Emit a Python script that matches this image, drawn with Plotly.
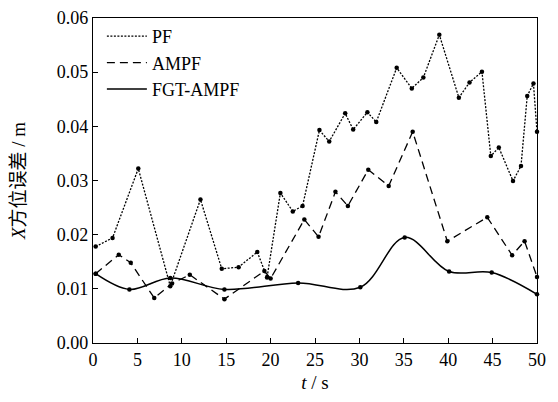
import plotly.graph_objects as go

# Data
pf_t = [0.3, 2.2, 5.1, 8.7, 12.1, 14.5, 16.4, 18.5, 19.6, 21.1, 22.5, 23.6, 25.5, 26.6,
        28.4, 29.3, 30.9, 31.9, 34.2, 35.9, 37.2, 39.0, 41.2, 42.4, 43.8, 44.8, 45.7,
        47.3, 48.2, 48.9, 49.6, 50.0]
pf_v = [0.0178, 0.0194, 0.0322, 0.0105, 0.0265, 0.0137, 0.0140, 0.0168, 0.0121, 0.0277,
        0.0243, 0.0253, 0.0393, 0.0372, 0.0424, 0.0394, 0.0426, 0.0408, 0.0508, 0.0470,
        0.0490, 0.0569, 0.0453, 0.0481, 0.0501, 0.0345, 0.0361, 0.0299, 0.0327, 0.0456,
        0.0479, 0.0390]

ampf_t = [0.3, 2.9, 4.25, 6.9, 8.9, 10.9, 14.8, 19.3, 20.0, 23.8, 25.4, 27.3, 28.7,
          31.0, 33.3, 36.0, 39.9, 44.4, 47.2, 48.6, 50.0]
ampf_v = [0.0128, 0.0163, 0.0148, 0.0083, 0.0110, 0.0126, 0.0081, 0.0133, 0.0119,
          0.0228, 0.0196, 0.0279, 0.0253, 0.0320, 0.0290, 0.0390, 0.0188, 0.0232,
          0.0162, 0.0188, 0.0122]

fgt_t = [0.3, 4.1, 8.7, 14.8, 23.1, 30.1, 35.1, 40.1, 44.9, 50.0]
fgt_v = [0.0128, 0.0099, 0.0120, 0.0099, 0.0111, 0.0103, 0.0195, 0.0132, 0.0130, 0.0090]

names = ["PF", "AMPF", "FGT-AMPF"]
x_ticks = [0, 5, 10, 15, 20, 25, 30, 35, 40, 45, 50]

FONT = "Liberation Serif, Times New Roman, serif"
CJK = "Liberation Serif, Noto Sans CJK SC, serif"

fig = go.Figure()

series = [
    (pf_t, pf_v, names[0], dict(color="black", width=1.3, dash="2px,1.5px"), "linear"),
    (ampf_t, ampf_v, names[1], dict(color="black", width=1.3, dash="8px,5px"), "linear"),
    (fgt_t, fgt_v, names[2], dict(color="black", width=1.5), "spline"),
]

for t, v, name, line, shape in series:
    line = dict(line)
    line["shape"] = shape
    if shape == "spline":
        line["smoothing"] = 1.0
    fig.add_trace(go.Scatter(x=t, y=v, mode="lines", name=name, line=line,
                             showlegend=True, cliponaxis=False))
    fig.add_trace(go.Scatter(x=t, y=v, mode="markers", showlegend=False,
                             marker=dict(color="black", size=4.5), cliponaxis=False,
                             hoverinfo="skip"))

# The page adds an 8px body margin, so the figure is sized/offset to compensate.
fig.update_layout(
    width=550, height=394,
    margin=dict(l=85, r=21, t=10, b=59),
    paper_bgcolor="white", plot_bgcolor="white",
    font=dict(family=FONT, size=18, color="black"),
    showlegend=True,
    legend=dict(x=0.02, y=1.0, xanchor="left", yanchor="top",
                bgcolor="rgba(0,0,0,0)", font=dict(family=FONT, size=18),
                tracegroupgap=0, itemwidth=40),
)

fig.update_xaxes(
    range=[0, 50], tickvals=x_ticks, ticktext=[str(v) for v in x_ticks],
    showline=True, linecolor="black", linewidth=1.2, mirror=True, automargin=False,
    ticks="inside", ticklen=5, tickcolor="black", showgrid=False, zeroline=False,
    tickfont=dict(family=FONT, size=18), ticklabeloverflow="allow",
    title=dict(text="<i>t</i> / s", font=dict(family=FONT, size=19), standoff=6),
)
fig.update_yaxes(
    range=[0, 0.06], dtick=0.01, tickformat=".2f",
    showline=True, linecolor="black", linewidth=1.2, mirror=True, automargin=False,
    ticks="inside", ticklen=5, tickcolor="black", showgrid=False, zeroline=False,
    tickfont=dict(family=FONT, size=18), ticklabeloverflow="allow",
    title=dict(text="<i>X</i>方位误差 / m", font=dict(family=CJK, size=19), standoff=27),
)

fig.write_html("out.html")
